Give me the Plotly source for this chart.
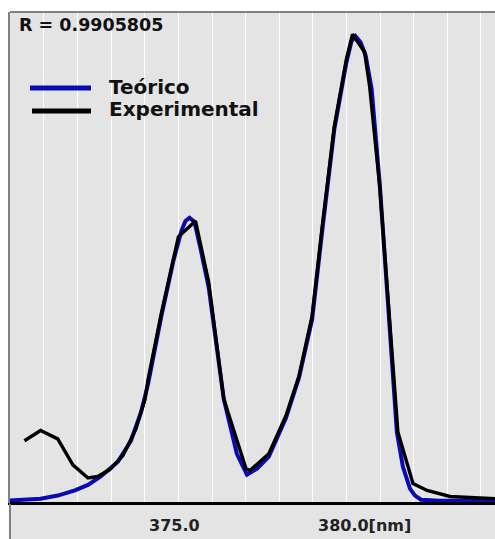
import plotly.graph_objects as go

# Wavelength (nm) / normalized intensity for the fitted (theoretical) spectrum
teorico_nm = [369.91, 370.90, 371.41, 371.92, 372.31, 372.69, 373.20, 373.59,
              373.89, 374.10, 374.49, 374.85, 375.09, 375.21, 375.33, 375.48,
              375.66, 375.90, 376.35, 376.74, 377.04, 377.34, 377.69, 378.20,
              378.59, 378.98, 379.28, 379.64, 380.00, 380.15, 380.27, 380.42,
              380.57, 380.75, 380.99, 381.29, 381.50, 381.68, 381.89, 382.04,
              382.22, 382.78, 384.43]
teorico_int = [0.000, 0.004, 0.011, 0.022, 0.034, 0.052, 0.084, 0.129,
               0.191, 0.252, 0.396, 0.516, 0.581, 0.602, 0.609, 0.600,
               0.542, 0.460, 0.219, 0.101, 0.056, 0.069, 0.095, 0.178,
               0.265, 0.391, 0.581, 0.800, 0.944, 0.989, 1.000, 0.987,
               0.959, 0.886, 0.682, 0.370, 0.148, 0.073, 0.026, 0.011,
               0.002, 0.000, 0.000]

# Measured spectrum
experimental_nm = [370.42, 370.90, 371.41, 371.86, 372.31, 372.60, 372.96, 373.35,
                   373.74, 374.01, 374.10, 374.49, 375.00, 375.51, 375.90, 376.35,
                   377.01, 377.13, 377.69, 378.20, 378.59, 378.98, 379.28, 379.64,
                   380.00, 380.18, 380.54, 380.69, 380.99, 381.29, 381.53, 381.98,
                   382.40, 383.08, 384.43]
experimental_int = [0.129, 0.151, 0.133, 0.077, 0.049, 0.052, 0.067, 0.097,
                    0.155, 0.219, 0.262, 0.402, 0.568, 0.602, 0.471, 0.219,
                    0.069, 0.065, 0.101, 0.183, 0.269, 0.398, 0.591, 0.806,
                    0.951, 1.004, 0.966, 0.892, 0.677, 0.391, 0.148, 0.037,
                    0.022, 0.009, 0.004]

tick_labels = ["375.0", "380.0[nm]"]
series_names = ["Teórico", "Experimental"]
r_text = "R = 0.9905805"

BLUE = "#0a0ab4"
BLACK = "#000000"
PANEL = "#e4e4e4"

fig = go.Figure()
fig.add_trace(go.Scatter(x=teorico_nm, y=teorico_int, mode="lines",
                         line=dict(color=BLUE, width=4), name=series_names[0]))
fig.add_trace(go.Scatter(x=experimental_nm, y=experimental_int, mode="lines",
                         line=dict(color=BLACK, width=3.4), name=series_names[1]))

W, H = 495, 539
ML, MT, MR, MB = 10, 12, 0, 36
PW, PH = W - ML - MR, H - MT - MB


def px(xp):
    return (xp - ML) / PW


def py(yp):
    return (H - MB - yp) / PH


fig.update_layout(
    width=W, height=H,
    margin=dict(l=ML, r=MR, t=MT, b=MB, pad=0),
    paper_bgcolor="white",
    plot_bgcolor=PANEL,
    showlegend=False,
    xaxis=dict(range=[369.99, 384.42], tick0=371, dtick=1, showgrid=True,
               gridcolor="white", gridwidth=1, showticklabels=False,
               ticks="", zeroline=False, showline=True, linecolor="black",
               linewidth=2, fixedrange=True),
    yaxis=dict(range=[-0.005, 1.052], showgrid=False, showticklabels=False,
               ticks="", zeroline=False, showline=True, linecolor="#808080",
               linewidth=2, fixedrange=True),
)

# grey panel continues under the axis where the labels sit
fig.add_shape(type="rect", xref="paper", yref="paper", x0=0, x1=1, y0=py(H), y1=0,
              fillcolor=PANEL, line=dict(width=0), layer="below")

# top frame and left frame extension below the axis
fig.add_shape(type="line", xref="paper", yref="paper", x0=0, x1=1, y0=1, y1=1,
              line=dict(color="#808080", width=2))
fig.add_shape(type="line", xref="paper", yref="paper", x0=0, x1=0, y0=py(H), y1=0,
              line=dict(color="#808080", width=2))
fig.add_shape(type="line", xref="paper", yref="paper", x0=0, x1=1, y0=0, y1=0,
              line=dict(color="black", width=2))

# legend samples
fig.add_shape(type="line", xref="paper", yref="paper", x0=px(30), x1=px(91),
              y0=py(88), y1=py(88), line=dict(color=BLUE, width=5))
fig.add_shape(type="line", xref="paper", yref="paper", x0=px(32), x1=px(91),
              y0=py(111), y1=py(111), line=dict(color=BLACK, width=5))

bold = dict(family="DejaVu Sans", size=20, color="#111111", weight="bold")
fig.add_annotation(text=series_names[0], xref="paper", yref="paper", x=px(107), y=py(87),
                   xanchor="left", yanchor="middle", showarrow=False, font=bold)
fig.add_annotation(text=series_names[1], xref="paper", yref="paper", x=px(107), y=py(109),
                   xanchor="left", yanchor="middle", showarrow=False, font=bold)

fig.add_annotation(text=r_text, xref="paper", yref="paper", x=px(17), y=py(25),
                   xanchor="left", yanchor="middle", showarrow=False,
                   font=dict(family="DejaVu Sans", size=17.5, color="#111111", weight="bold"))

tick_font = dict(family="DejaVu Sans", size=16, color="#222222", weight="bold")
fig.add_annotation(text=tick_labels[0], xref="paper", yref="paper", x=px(174), y=py(525),
                   xanchor="center", yanchor="middle", showarrow=False, font=tick_font)
fig.add_annotation(text=tick_labels[1], xref="paper", yref="paper", x=px(316), y=py(525),
                   xanchor="left", yanchor="middle", showarrow=False, font=tick_font)

fig.write_html("out.html")
